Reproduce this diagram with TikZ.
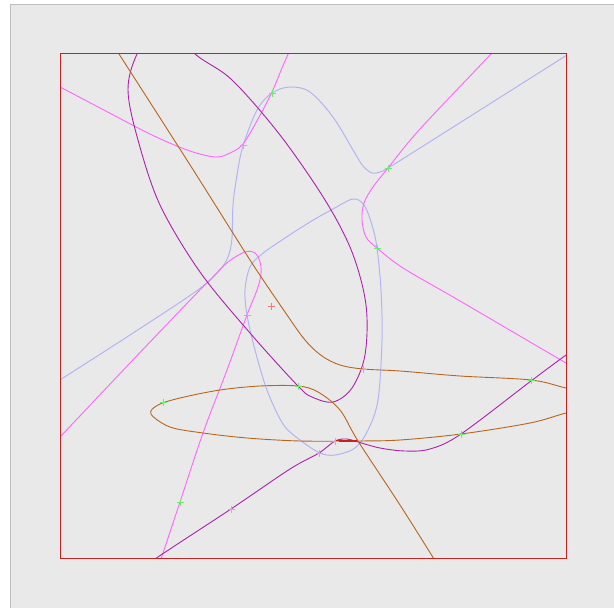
\documentclass[tikz,border=0pt]{standalone}
\usepackage{xcolor}
\usepackage{tikz}
\definecolor{plotBack}{RGB}{233,233,233}
\definecolor{plotEdge}{RGB}{190,190,190}
\definecolor{frameRed}{RGB}{200,32,32}
\definecolor{lineBrown}{RGB}{184,102,30}
\definecolor{linePurple}{RGB}{172,34,172}
\definecolor{lineLavender}{RGB}{180,180,244}
\definecolor{linePink}{RGB}{255,102,255}
\definecolor{markGreen}{RGB}{110,235,110}
\definecolor{markRed}{RGB}{240,120,120}
\tikzset{
  frameLine/.style={draw=frameRed, line width=1pt},
  brownCurve/.style={draw=lineBrown, line width=0.9pt},
  purpleCurve/.style={draw=linePurple, line width=0.9pt},
  lavenderCurve/.style={draw=lineLavender, line width=1pt},
  pinkCurve/.style={draw=linePink, line width=0.9pt},
  hitMark/.style={draw=markGreen, line width=1pt},
  originMark/.style={draw=markRed, line width=1pt}
}

\begin{document}
\begin{tikzpicture}[x=1pt, y=-1pt]
  \useasboundingbox (0,0) rectangle (614,608);
  \fill[white] (0,0) rectangle (614,608);
  \fill[plotBack] (10,4) rectangle (614,608);
  \draw[plotEdge, line width=1pt] (10,608) -- (10,4) -- (614,4);

  \begin{scope}
    \clip (60.5,53.5) rectangle (566.5,558.5);
    \draw[lavenderCurve] plot[smooth, tension=0.55] coordinates {(30,400) (60,380) (130,335) (195,292) (218,272) (228,257) (232,238) (233,205) (237,175) (243,146) (257,110) (272,93) (290,87) (310,92) (333,117) (353,150) (363,166) (372,173) (380,172) (388,168) (420,148) (567,55) (600,34)};
    \draw[lavenderCurve] plot[smooth cycle, tension=0.55] coordinates {(353,199) (364,205) (372,225) (377,248) (381,290) (382,340) (378,400) (368,430) (355,448) (335,455) (320,453) (300,440) (283,424) (267,390) (255,350) (247,315) (245,290) (250,267) (262,254) (285,238) (310,222) (333,209)};
    \draw[pinkCurve] plot[smooth, tension=0.55] coordinates {(30,72) (60,87) (100,108) (150,134) (187,150) (215,157) (230,153) (243,144) (258,119) (272,92) (282,68) (290,50) (300,30)};
    \draw[pinkCurve] plot[smooth, tension=0.55] coordinates {(515,28) (491,54) (420,129) (388,168) (373,187) (364,203) (362,220) (366,237) (377,248) (403,268) (460,301) (566,363) (600,382)};
    \draw[pinkCurve] plot[smooth, tension=0.55] coordinates {(35,463) (60,437) (130,363) (195,295) (210,280) (228,262) (245,252) (255,253) (260,262) (261,274) (257,290) (247,315) (227,370) (203,433) (180,502) (163,553) (150,590)};
    \draw[purpleCurve] plot[smooth cycle, tension=0.55] coordinates {(160,18) (195,54) (232,80) (280,135) (325,200) (352,252) (366,305) (365,355) (352,388) (333,402) (312,397) (298,386) (250,333) (200,272) (160,205) (138,140) (128,90) (137,54)};
    \draw[purpleCurve] plot[smooth, tension=0.55] coordinates {(120,585) (155,559) (231,509) (290,469) (319,453) (335,441) (347,439) (358,442) (380,448) (405,451) (430,449) (461,434) (531,381) (566,355) (600,330)};
    \draw[brownCurve] plot[smooth, tension=0.55] coordinates {(100,25) (119,54) (192,168) (250,260) (285,312) (305,340) (322,356) (340,365) (363,369) (400,371) (460,376) (531,380) (566,388) (600,395)};
    \draw[brownCurve] plot[smooth, tension=0.55] coordinates {(600,405) (566,413) (530,423) (461,434) (400,440) (358,441) (300,441) (247,438) (203,433) (170,427) (151,414) (158,405) (180,398) (220,390) (260,386) (298,386) (318,392) (340,410) (358,441) (400,505) (434,559) (450,585)};
    \draw[draw=frameRed, line width=1.6pt] (336,441) -- (357,441);
  \end{scope}

  \draw[frameLine] (60.5,53.5) rectangle (566.5,558.5);

  \foreach \p in {(272,93), (243,145), (388,168), (377,248), (247,315), (298,386), (363,369), (335,441), (319,453), (163,402), (180,502), (231,509), (531,380), (461,434)}
    \draw[hitMark] \p +(-3.5,0) -- +(3.5,0) \p +(0,-3.5) -- +(0,3.5);
  \draw[originMark] (271,306) +(-3.5,0) -- +(3.5,0) (271,306) +(0,-3.5) -- +(0,3.5);
\end{tikzpicture}
\end{document}
